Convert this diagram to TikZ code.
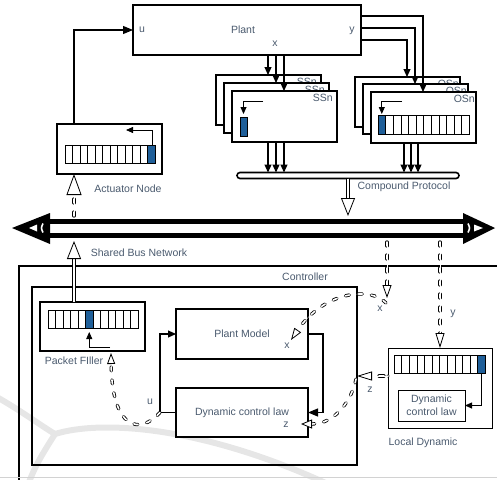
\documentclass[tikz,border=0pt]{standalone}
\usepackage{fontspec}
\setmainfont{Liberation Sans}
\usetikzlibrary{arrows.meta,calc}
\definecolor{tc}{HTML}{4A5A6E}
\definecolor{cellblue}{HTML}{1F5F99}
\definecolor{wm}{HTML}{E6E6E6}
\newcommand{\myreg}[5]{%
  \foreach \i in {0,...,11}{\draw[regl] ({#1+\i*#3},#2) rectangle ++(#3,#4);}
  \draw[regl,fill=cellblue] ({#1+#5*#3},#2) rectangle ++(#3,#4);}
\begin{document}
\begin{tikzpicture}[x=1pt,y=-1pt,
  box/.style={draw, line width=1.2pt, fill=white, inner sep=0pt, outer sep=0pt},
  frame/.style={draw, line width=1.2pt, inner sep=0pt, outer sep=0pt},
  lbl/.style={text=tc, font=\fontsize{10.5}{13}\selectfont, inner sep=0pt},
  regl/.style={line width=0.6pt},
  arr/.style={line width=1.1pt, -{Triangle[length=8pt,width=7pt]}},
  bigarr/.style={line width=1.1pt, -{Triangle[length=10pt,width=8pt]}},
  sarr/.style={line width=0.8pt, -{Triangle[length=7pt,width=6pt]}},
  hol/.style 2 args={white, line width=0.2pt, -{Triangle[color=black, fill=white, line width=0.8pt, length=#1, width=#2]}},
  stemd/.style={draw=black, double=white, double distance=1.6pt, line width=0.85pt, line cap=round, dash pattern=on 4pt off 9pt},
  stems/.style={draw=black, double=white, double distance=2pt, line width=0.6pt},
]
\useasboundingbox (0,0) rectangle (497,479);
\clip (0,0) rectangle (497,479);
% watermark
\draw[wm, line width=6pt] (-5,396) .. controls (20,410) and (40,425) .. (55,434);
\draw[wm, line width=6pt] (55,434) .. controls (45,450) and (35,465) .. (28,485);
\draw[wm, line width=6pt] (55,434) .. controls (100,420) and (200,425) .. (330,485);

% plant
\node[box, minimum width=228, minimum height=50] (plant) at (247,30) {};
\node[lbl, anchor=west] (tu) at (139,30) {u};
\node[lbl] (tplant) at (243,30) {Plant};
\node[lbl] (ty) at (352,31) {y};
\node[lbl] (tx) at (275,44) {x};

% actuator node
\node[box, minimum width=105, minimum height=50] (act) at (109.5,149) {};
\myreg{65}{145}{7.5}{18}{11}
\draw[sarr] (152.75,145) |- (126,130);
\node[lbl] (tact) at (128,189) {Actuator Node};

% SS stack
\node[box, minimum width=105, minimum height=50] (ss1) at (268.5,100) {};
\node[lbl, anchor=north east] (ls1) at ([xshift=-4pt,yshift=-3pt]ss1.north east) {SSn};
\node[box, minimum width=105, minimum height=50] (ss2) at (276.5,108) {};
\node[lbl, anchor=north east] (ls2) at ([xshift=-4pt,yshift=-3pt]ss2.north east) {SSn};
\node[box, minimum width=105, minimum height=51] (ss3) at (284.5,116.5) {};
\node[lbl, anchor=north east] (ls3) at ([xshift=-4pt,yshift=-3pt]ss3.north east) {SSn};
\draw[regl, fill=cellblue] (240,117) rectangle (247,136);
\draw[sarr] (263,101) -| (243.5,114);

% OS stack
\node[box, minimum width=105, minimum height=50] (os1) at (407.5,102) {};
\node[lbl, anchor=north east] (lo1) at ([xshift=-1pt,yshift=-3pt]os1.north east) {OSn};
\node[box, minimum width=105, minimum height=50] (os2) at (415.5,109) {};
\node[lbl, anchor=north east] (lo2) at ([xshift=-1pt,yshift=-3pt]os2.north east) {OSn};
\node[box, minimum width=105, minimum height=51] (os3) at (423.5,117.5) {};
\node[lbl, anchor=north east] (lo3) at ([xshift=-1pt,yshift=-3pt]os3.north east) {OSn};
\myreg{378}{115}{7.6}{19}{0}
\draw[sarr] (402,101) -| (381.8,114);

% compound protocol bar
\node[draw, line width=1.6pt, rounded corners=3pt, fill=white, minimum width=222, minimum height=6, inner sep=0pt, outer sep=0pt] (bar) at (348,175.5) {};
\node[lbl] (tcp) at (404,187) {Compound Protocol};

% plant -> SS
\foreach \n in {1,2,3}{\coordinate (a\n) at ([xshift=52pt]ss\n.north west);}
\foreach \n in {1,2,3}{\draw[arr] (a\n |- plant.south) -- (a\n);}
\foreach \n in {1,2,3}{\draw[arr] (a\n |- ss3.south) -- (a\n |- bar.north);}
% plant -> OS
\foreach \n in {1,2,3}{\coordinate (b\n) at ([xshift=52pt]os\n.north west);}
\draw[arr] ([yshift=-10pt]plant.east) -| (b1);
\draw[arr] ([yshift=2pt]plant.east) -| (b2);
\draw[arr] ([yshift=14pt]plant.east) -| (b3);
\coordinate (c1) at ([xshift=33pt]os3.south west);
\coordinate (c2) at ([xshift=40pt]os3.south west);
\coordinate (c3) at ([xshift=47pt]os3.south west);
\foreach \n in {1,2,3}{\draw[arr] (c\n) -- (c\n |- bar.north);}

% actuator -> plant
\draw[bigarr] ([xshift=17pt]act.north west) |- (plant.west);

% shared bus
\fill (12,228) -- (50,213) -- (50,244) -- cycle;
\fill (495,228) -- (463,213) -- (463,244) -- cycle;
\draw[line width=5pt] (48,221.5) -- (466,221.5);
\draw[line width=5pt] (48,235.5) -- (466,235.5);
\fill[white] (29,228) -- (37,224.5) -- (37,231.5) -- cycle;
\draw[white, line width=1.6pt] (43,223.5) .. controls (41,228) .. (43,232.5);
\fill[white] (483,228) -- (474,224.5) -- (474,231.5) -- cycle;
\draw[white, line width=1.6pt] (468,223.5) .. controls (470,228) .. (468,232.5);
\coordinate (busT) at (250,216);
\coordinate (busB) at (250,241);
\coordinate (busD) at (250,242);
\node[lbl] (tbus) at (139,253) {Shared Bus Network};

% controller frames
\node[frame, minimum width=501, minimum height=240, anchor=north west] (ctrl) at (19,266) {};
\node[lbl] (tctrl) at (305,277) {Controller};
\node[frame, minimum width=325, minimum height=178, anchor=north west] (inner) at (32,287) {};

% packet filler
\node[box, minimum width=105, minimum height=49, anchor=north west] (pfill) at (40,302) {};
\myreg{48}{310}{7.5}{18}{5}
\draw[sarr] (110,347) -| (89.25,332);
\node[lbl] (tpf) at (74,361) {Packet FIller};

% plant model and dynamic control law
\node[box, minimum width=132, minimum height=50, anchor=north west] (pmodel) at (176,309) {};
\node[lbl] (tpm) at (pmodel) {Plant Model};
\node[box, minimum width=132, minimum height=49, anchor=north west] (dcl) at (176,388) {};
\node[lbl] (tdcl) at (dcl) {Dynamic control law};

% local dynamic
\node[box, line width=0.9pt, minimum width=104, minimum height=80, anchor=north west] (local) at (388,348) {};
\myreg{394}{355}{7.6}{18}{11}
\node[box, line width=0.9pt, minimum width=67, minimum height=31, anchor=north west] (ldcl) at (398,390) {};
\node[lbl, align=center] (tldcl) at (ldcl) {Dynamic\\control law};
\draw[sarr] (481.4,373) |- (ldcl.east);
\node[lbl] (tld) at (423,443) {Local Dynamic};

% internal controller arrows
\draw[bigarr] (pmodel.east) -- ++(15,0) |- (dcl.east);
\coordinate (uj) at ([xshift=-16pt]dcl.west);
\draw[arr] (dcl.west) -- (uj) |- (pmodel.west);
\node[lbl] (tu2) at (150,402) {u};

% u dashed curve to packet filler
\coordinate (pft) at (111,353);
\draw[stemd, shorten >=11pt] (uj) .. controls (140,435) and (112,430) .. (pft);
\draw[hol={11pt}{8pt}] (uj) .. controls (140,435) and (112,430) .. (pft);

% packet filler -> bus
\coordinate (pf) at ([xshift=34pt]pfill.north west);
\draw[stems, shorten >=18pt] (pf) -- (pf |- busB);
\draw[hol={18pt}{14pt}] (pf) -- (pf |- busB);

% bus -> actuator
\draw[stemd, shorten >=21pt] (pf |- busT) -- (pf |- act.south);
\draw[hol={21pt}{15pt}] (pf |- busT) -- (pf |- act.south);

% compound -> bus
\draw[stems, shorten >=18pt] (bar.south) -- (bar.south |- busT);
\draw[hol={18pt}{14pt}] (bar.south) -- (bar.south |- busT);

% bus -> x
\coordinate (xin) at (387,298);
\draw[stemd, shorten >=13pt] (xin |- busD) -- (xin);
\draw[hol={13pt}{9pt}] (xin |- busD) -- (xin);
\node[lbl] (tx2) at (380,309) {x};

% bus -> y -> local
\draw[stemd, shorten >=15pt] (local.north |- busD) -- (local.north);
\draw[hol={15pt}{9pt}] (local.north |- busD) -- (local.north);
\node[lbl] (ty2) at (453,314) {y};

% x curve into plant model
\coordinate (xs) at (386,303);
\coordinate (xm) at ([xshift=-17pt,yshift=-6pt]pmodel.east);
\draw[stemd, shorten >=12pt] (xs) .. controls (372,287) and (325,290) .. (xm);
\draw[hol={12pt}{8pt}] (xs) .. controls (372,287) and (325,290) .. (xm);
\node[lbl] (tx3) at (287,346) {x};

% z from local dynamic
\coordinate (zt) at (357,376);
\draw[stemd, dash pattern=on 0pt off 4pt on 5pt off 30pt, shorten >=15pt] ([yshift=12pt]local.west) -- (zt);
\draw[hol={15pt}{9pt}] ([yshift=12pt]local.west) -- (zt);
\node[lbl] (tz) at (370,390) {z};

% z curve into dynamic control law
\coordinate (zs) at (356,379);
\coordinate (zd) at ([xshift=-7pt,yshift=-11.5pt]dcl.east);
\draw[stemd, shorten >=11pt] (zs) .. controls (352,400) and (335,424) .. (zd);
\draw[hol={11pt}{9pt}] (zs) .. controls (352,400) and (335,424) .. (zd);
\node[lbl] (tz2) at (286,425) {z};

% bottom grey line
\draw[gray!35, line width=1pt] (0,477.5) -- (497,477.5);
\end{tikzpicture}
\end{document}
